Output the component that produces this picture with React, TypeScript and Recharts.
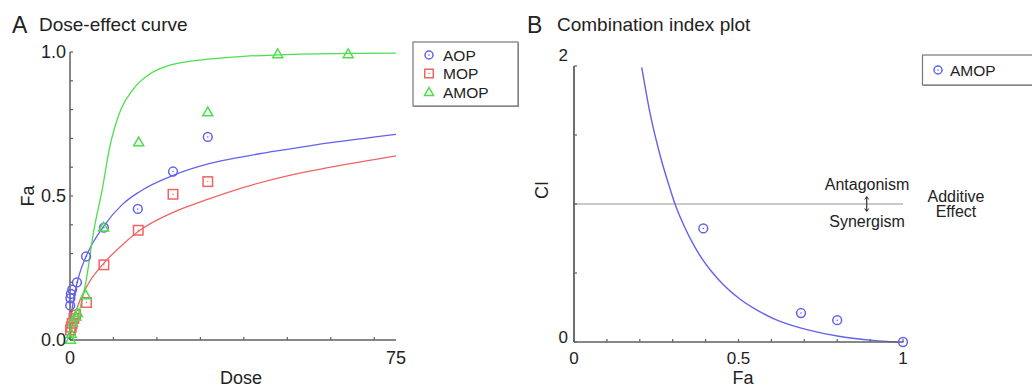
import { ComposedChart, Line, Scatter, XAxis, YAxis, ReferenceLine } from 'recharts'

const FONT = '"Liberation Sans", Arial, Helvetica, sans-serif'
const AXIS = '#5f5f5f'
const TEXT = '#222'
const BLUE = '#6262ee'
const RED = '#f06464'
const GREEN = '#4ede4e'

// ---- panel A: dose-effect curve ----
const doseTicks = [0, 10, 20, 30, 40, 50, 60, 70, 75]
const doseLabelled = [0, 75]
const faTicks = [0, 0.1, 0.2, 0.3, 0.4, 0.5, 0.6, 0.7, 0.8, 0.9, 1]
const faLabelled = [0, 0.5, 1]

const aopDose = [0.05, 0.1, 0.2, 0.5, 1.6, 3.7, 7.8, 15.6, 23.7, 31.7]
const aopFa = [0.12, 0.145, 0.16, 0.175, 0.2, 0.29, 0.39, 0.455, 0.585, 0.705]
const mopDose = [0.1, 0.3, 0.5, 0.9, 1.3, 3.8, 7.8, 15.7, 23.7, 31.7]
const mopFa = [0.035, 0.045, 0.058, 0.075, 0.087, 0.13, 0.261, 0.381, 0.506, 0.55]
const amopDose = [0.1, 0.3, 0.6, 1.3, 1.7, 3.6, 7.7, 15.8, 31.7, 47.8, 64]
const amopFa = [0, 0.02, 0.06, 0.08, 0.093, 0.155, 0.39, 0.686, 0.79, 0.992, 0.992]

// fitted median-effect curves
const aopCurveDose = [0.05, 0.25, 0.5, 1, 2, 4, 8, 12, 16, 24, 32, 40, 50, 60, 75]
const aopCurveFa = [0.045, 0.08, 0.11, 0.155, 0.22, 0.3, 0.4, 0.47, 0.515, 0.573, 0.612, 0.637, 0.662, 0.685, 0.714]
const mopCurveDose = [0.05, 0.5, 1, 2, 4, 8, 12, 16, 24, 32, 40, 50, 60, 75]
const mopCurveFa = [0.012, 0.05, 0.083, 0.127, 0.19, 0.27, 0.33, 0.38, 0.445, 0.49, 0.53, 0.57, 0.6, 0.639]
const amopCurveDose = [0.5, 1.3, 2.4, 3.6, 5.5, 7.4, 9, 11.7, 14.4, 18.6, 23.2, 31.7, 40, 48, 64, 75]
const amopCurveFa = [0, 0.046, 0.116, 0.197, 0.382, 0.521, 0.66, 0.8, 0.868, 0.926, 0.955, 0.975, 0.985, 0.99, 0.995, 0.996]

// ---- panel B: combination index plot ----
const ciFaTicks = [0, 0.1, 0.2, 0.3, 0.4, 0.5, 0.6, 0.7, 0.8, 0.9, 1]
const ciFaLabelled = [0, 0.5, 1]
const ciTicks = [0, 0.5, 1, 1.5, 2]
const ciLabelled = [0, 2]

const amopCiFa = [0.393, 0.69, 0.8, 1]
const amopCi = [0.823, 0.21, 0.158, 0]
const ciCurveFa = [0.206, 0.231, 0.262, 0.292, 0.307, 0.333, 0.36, 0.39, 0.42, 0.454, 0.505, 0.55, 0.606, 0.65, 0.708, 0.809, 0.91, 0.96, 0.99]
const ciCurveCi = [1.99, 1.66, 1.35, 1.11, 1.0, 0.85, 0.72, 0.6, 0.505, 0.415, 0.31, 0.24, 0.17, 0.13, 0.09, 0.04, 0.012, 0.003, 0]

const zip = (xs: number[], ys: number[], xk: string, yk: string) =>
  xs.map((x, i) => ({ [xk]: x, [yk]: ys[i] }))

function CircleMark({ cx, cy, color = BLUE, r = 4.4 }: any) {
  return (
    <g>
      <circle cx={cx} cy={cy} r={r} fill="none" stroke={color} strokeWidth={1.5} />
      <circle cx={cx} cy={cy} r={0.8} fill={color} />
    </g>
  )
}

function SquareMark({ cx, cy, color = RED, s = 9.5 }: any) {
  return (
    <g>
      <rect x={cx - s / 2} y={cy - s / 2} width={s} height={s} fill="none" stroke={color} strokeWidth={1.5} />
      <circle cx={cx} cy={cy} r={0.7} fill={color} />
    </g>
  )
}

function TriangleMark({ cx, cy, color = GREEN, s = 10 }: any) {
  const h = s * 0.87
  const pts = `${cx},${cy - h / 2 - 1} ${cx - s / 2},${cy + h / 2 - 1} ${cx + s / 2},${cy + h / 2 - 1}`
  return <polygon points={pts} fill="none" stroke={color} strokeWidth={1.5} />
}

function DoseTick({ x, y, payload }: any) {
  const v = payload.value
  return (
    <g>
      {v % 10 === 0 && <line x1={x} y1={y} x2={x} y2={y - 3} stroke={AXIS} strokeWidth={1.2} />}
      {doseLabelled.includes(v) && (
        <text x={x} y={y + 24} textAnchor="middle" fontSize={18} fill={TEXT} fontFamily={FONT}>
          {v}
        </text>
      )}
    </g>
  )
}

function FaTick({ x, y, payload }: any) {
  const v = payload.value
  return (
    <g>
      <line x1={x} y1={y} x2={x + 3} y2={y} stroke={AXIS} strokeWidth={1.2} />
      {faLabelled.includes(v) && (
        <text x={x - 4} y={y} dy="0.36em" textAnchor="end" fontSize={18} fill={TEXT} fontFamily={FONT}>
          {v.toFixed(1)}
        </text>
      )}
    </g>
  )
}

function CiFaTick({ x, y, payload }: any) {
  const v = payload.value
  return (
    <g>
      <line x1={x} y1={y} x2={x} y2={y - 3} stroke={AXIS} strokeWidth={1.2} />
      {ciFaLabelled.includes(v) && (
        <text x={x} y={y + 22} textAnchor="middle" fontSize={17} fill={TEXT} fontFamily={FONT}>
          {String(v)}
        </text>
      )}
    </g>
  )
}

function CiTick({ x, y, payload }: any) {
  const v = payload.value
  const shift = v === 2 ? -11 : -5
  return (
    <g>
      <line x1={x} y1={y} x2={x + 3} y2={y} stroke={AXIS} strokeWidth={1.2} />
      {ciLabelled.includes(v) && (
        <text x={x - 6} y={y + shift} dy="0.36em" textAnchor="end" fontSize={17} fill={TEXT} fontFamily={FONT}>
          {String(v)}
        </text>
      )}
    </g>
  )
}

function DoseEffectChart() {
  return (
    <ComposedChart width={520} height={388} margin={{ top: 52, right: 124, bottom: 47, left: 69 }}>
      <XAxis
        type="number"
        dataKey="dose"
        domain={[0, 75]}
        ticks={doseTicks}
        interval={0}
        height={1}
        tickSize={0}
        tickMargin={0}
        tickLine={false}
        tick={<DoseTick />}
        axisLine={{ stroke: AXIS, strokeWidth: 1.5 }}
      />
      <YAxis
        type="number"
        domain={[0, 1]}
        ticks={faTicks}
        interval={0}
        width={1}
        tickSize={0}
        tickMargin={0}
        tickLine={false}
        tick={<FaTick />}
        axisLine={{ stroke: AXIS, strokeWidth: 1.5 }}
      />
      <Line data={zip(aopCurveDose, aopCurveFa, 'dose', 'fa')} dataKey="fa" type="monotone" stroke={BLUE} strokeWidth={1.3} dot={false} isAnimationActive={false} />
      <Line data={zip(mopCurveDose, mopCurveFa, 'dose', 'fa')} dataKey="fa" type="monotone" stroke={RED} strokeWidth={1.3} dot={false} isAnimationActive={false} />
      <Line data={zip(amopCurveDose, amopCurveFa, 'dose', 'fa')} dataKey="fa" type="monotone" stroke={GREEN} strokeWidth={1.3} dot={false} isAnimationActive={false} />
      <Scatter data={zip(aopDose, aopFa, 'dose', 'fa')} dataKey="fa" shape={(p: any) => <CircleMark cx={p.cx} cy={p.cy} />} isAnimationActive={false} />
      <Scatter data={zip(mopDose, mopFa, 'dose', 'fa')} dataKey="fa" shape={(p: any) => <SquareMark cx={p.cx} cy={p.cy} />} isAnimationActive={false} />
      <Scatter data={zip(amopDose, amopFa, 'dose', 'fa')} dataKey="fa" shape={(p: any) => <TriangleMark cx={p.cx} cy={p.cy} />} isAnimationActive={false} />
    </ComposedChart>
  )
}

function CombinationIndexChart() {
  return (
    <ComposedChart width={512} height={388} margin={{ top: 66, right: 129, bottom: 45, left: 53 }}>
      <XAxis
        type="number"
        dataKey="fa"
        domain={[0, 1]}
        ticks={ciFaTicks}
        interval={0}
        height={1}
        tickSize={0}
        tickMargin={0}
        tickLine={false}
        tick={<CiFaTick />}
        axisLine={{ stroke: AXIS, strokeWidth: 1.5 }}
      />
      <YAxis
        type="number"
        domain={[0, 2]}
        ticks={ciTicks}
        interval={0}
        width={1}
        tickSize={0}
        tickMargin={0}
        tickLine={false}
        tick={<CiTick />}
        axisLine={{ stroke: AXIS, strokeWidth: 1.8 }}
      />
      <ReferenceLine y={1} stroke="#c9c9c9" strokeWidth={2} />
      <Line data={zip(ciCurveFa, ciCurveCi, 'fa', 'ci')} dataKey="ci" type="monotone" stroke={BLUE} strokeWidth={1.4} dot={false} isAnimationActive={false} />
      <Scatter data={zip(amopCiFa, amopCi, 'fa', 'ci')} dataKey="ci" shape={(p: any) => <CircleMark cx={p.cx} cy={p.cy} />} isAnimationActive={false} />
    </ComposedChart>
  )
}

function Overlay() {
  const t = { fontFamily: FONT, fill: TEXT }
  return (
    <svg width={1032} height={388} style={{ position: 'absolute', left: 0, top: 0, pointerEvents: 'none' }}>
      {/* titles */}
      <text x={12} y={33} fontSize={23} {...t}>A</text>
      <text x={39} y={31} fontSize={19} {...t}>Dose-effect curve</text>
      <text x={527} y={33} fontSize={23} {...t}>B</text>
      <text x={557} y={31} fontSize={19} {...t}>Combination index plot</text>

      {/* axis titles */}
      <text x={241} y={384} fontSize={18} textAnchor="middle" {...t}>Dose</text>
      <text x={34} y={196} fontSize={18} textAnchor="middle" transform="rotate(-90 34 196)" {...t}>Fa</text>
      <text x={743} y={384} fontSize={18} textAnchor="middle" {...t}>Fa</text>
      <text x={548} y={190} fontSize={18} textAnchor="middle" transform="rotate(-90 548 190)" {...t}>CI</text>

      {/* legend A */}
      <rect x={414} y={43} width={105} height={64} fill="#9a9a9a" />
      <rect x={413} y={42} width={105} height={64} fill="#fff" stroke="#777" strokeWidth={1.2} />
      <CircleMark cx={429} cy={55} r={4} />
      <SquareMark cx={429} cy={73.5} s={8.5} />
      <TriangleMark cx={429} cy={92.5} s={9} />
      <text x={443} y={60.5} fontSize={15.5} {...t}>AOP</text>
      <text x={443} y={79} fontSize={15.5} {...t}>MOP</text>
      <text x={443} y={97.5} fontSize={15.5} {...t}>AMOP</text>

      {/* legend B */}
      <rect x={923.5} y={56} width={120} height={30} fill="#9a9a9a" />
      <rect x={922.5} y={55} width={120} height={30} fill="#fff" stroke="#777" strokeWidth={1.2} />
      <CircleMark cx={938} cy={70} r={4} />
      <text x={950} y={75.5} fontSize={15.5} {...t}>AMOP</text>

      {/* CI annotations */}
      <text x={867} y={190} fontSize={16} textAnchor="middle" {...t}>Antagonism</text>
      <text x={867} y={227} fontSize={16} textAnchor="middle" {...t}>Synergism</text>
      <text x={956} y={201.5} fontSize={16} textAnchor="middle" {...t}>Additive</text>
      <text x={956} y={216.5} fontSize={16} textAnchor="middle" {...t}>Effect</text>
      <line x1={866.7} y1={197} x2={866.7} y2={211} stroke="#333" strokeWidth={1.2} />
      <path d="M864.7,199.5 L866.7,196.5 L868.7,199.5 M864.7,208.5 L866.7,211.5 L868.7,208.5" fill="none" stroke="#333" strokeWidth={1} />
    </svg>
  )
}

export default function App() {
  return (
    <div style={{ position: 'absolute', left: 0, top: 0, width: 1032, height: 388, background: '#fff', fontFamily: FONT }}>
      <div style={{ position: 'absolute', left: 0, top: 0 }}>
        <DoseEffectChart />
      </div>
      <div style={{ position: 'absolute', left: 520, top: 0 }}>
        <CombinationIndexChart />
      </div>
      <Overlay />
    </div>
  )
}
